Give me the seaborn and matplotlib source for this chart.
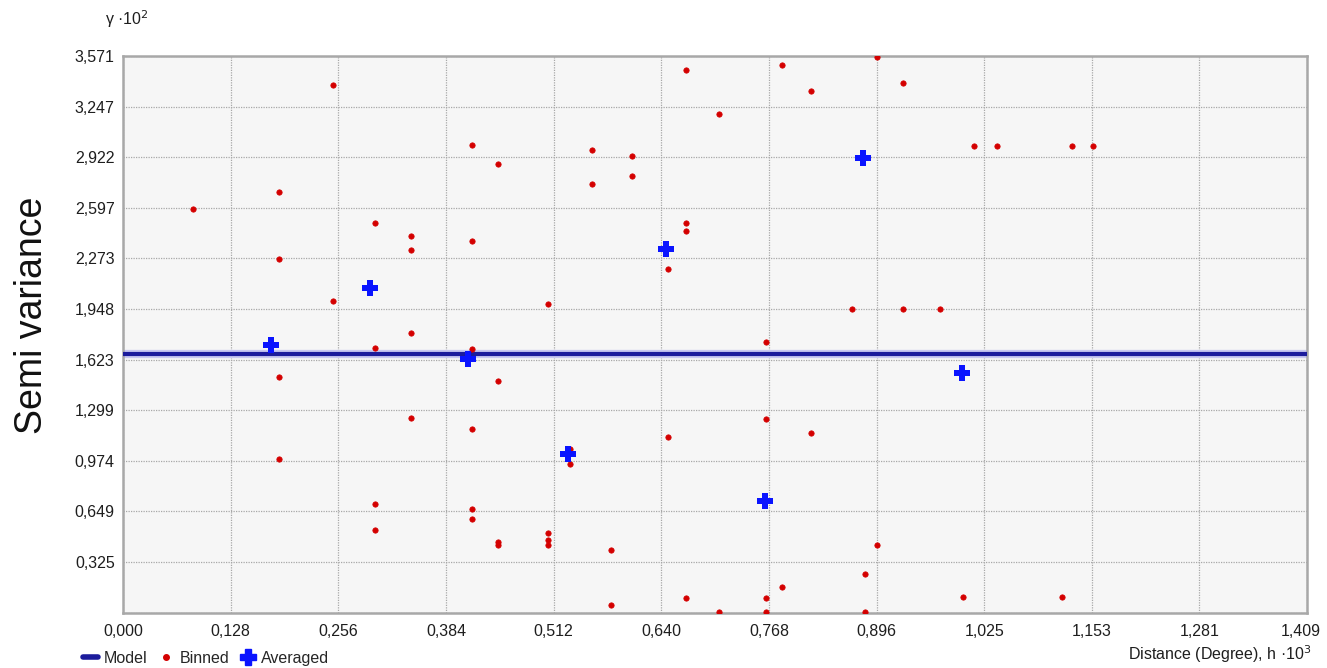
import matplotlib
matplotlib.use("Agg")
import matplotlib.pyplot as plt
from matplotlib.lines import Line2D
import matplotlib.transforms as mtransforms
import seaborn as sns
import pandas as pd

# ---- data (x in units of 10^3, y in units of 10^2) ----
binned_x = [0.0837, 0.186, 0.186, 0.186, 0.186,
            0.2496, 0.2496, 0.2999, 0.2999, 0.2999, 0.2999,
            0.3431, 0.3431, 0.3431, 0.3431,
            0.4153, 0.4153, 0.4153, 0.4153, 0.4153, 0.4153,
            0.4467, 0.4467, 0.4467, 0.4467,
            0.5061, 0.5061, 0.5061, 0.5061,
            0.5321, 0.5321, 0.5581, 0.5581, 0.5811, 0.5811,
            0.6054, 0.6054, 0.6486, 0.649,
            0.6704, 0.6704, 0.6704, 0.6704,
            0.7089, 0.7089,
            0.7652, 0.7652, 0.7652, 0.7652,
            0.7838, 0.7838, 0.8184, 0.8184,
            0.8676, 0.8834, 0.8834, 0.8977, 0.8977,
            0.9283, 0.9283, 0.9727,
            1.0, 1.0131, 1.0405, 1.117, 1.1297, 1.1544]
binned_y = [2.589, 2.698, 2.270, 1.510, 0.987,
            3.387, 1.999, 2.501, 1.698, 0.697, 0.530,
            2.418, 2.324, 1.792, 1.250,
            3.002, 2.386, 1.689, 1.176, 0.663, 0.601,
            2.876, 1.488, 0.455, 0.435,
            1.978, 0.509, 0.468, 0.432,
            1.050, 0.953, 2.970, 2.750, 0.404, 0.049,
            2.927, 2.803, 1.125, 2.206,
            3.481, 2.501, 2.448, 0.092,
            3.199, 0.002,
            1.738, 1.240, 0.092, 0.002,
            3.513, 0.164, 3.346, 1.154,
            1.950, 0.248, 0.002, 3.567, 0.434,
            3.398, 1.950, 1.950,
            0.102, 2.992, 2.992, 0.102, 2.992, 2.992]

averaged_x = [0.1757, 0.294, 0.4106, 0.5292, 0.6458, 0.764, 0.8803, 0.9989]
averaged_y = [1.717, 2.085, 1.625, 1.019, 2.333, 0.716, 2.918, 1.539]

model_value = 1.659

x_max = 1.409
y_max = 3.571
x_tick_labels = ["0,000", "0,128", "0,256", "0,384", "0,512", "0,640",
                 "0,768", "0,896", "1,025", "1,153", "1,281", "1,409"]
y_tick_labels = ["", "0,325", "0,649", "0,974", "1,299", "1,623",
                 "1,948", "2,273", "2,597", "2,922", "3,247", "3,571"]

binned = pd.DataFrame({"x": binned_x, "y": binned_y})
averaged = pd.DataFrame({"x": averaged_x, "y": averaged_y})

sns.set_theme(style="white")
fam = ["Liberation Sans", "DejaVu Sans"]
plt.rcParams["font.family"] = fam

fig = plt.figure(figsize=(13.27, 6.68), dpi=100)
ax = fig.add_axes([0.0927, 0.083, 0.8923, 0.833])
ax.set_facecolor("#f6f6f6")

ax.set_xlim(0, x_max)
ax.set_ylim(0, y_max)
n = len(x_tick_labels) - 1
ax.set_xticks([x_max * k / n for k in range(n + 1)])
ax.set_xticklabels(x_tick_labels)
ax.set_yticks([y_max * k / n for k in range(n + 1)])
ax.set_yticklabels(y_tick_labels)
ax.tick_params(axis="both", length=0, labelsize=11.5, colors="#1e1e1e")
ax.tick_params(axis="x", pad=8)
ax.tick_params(axis="y", pad=6)

# keep the last x label inside the figure
last = ax.get_xticklabels()[-1]
last.set_transform(last.get_transform() +
                   mtransforms.ScaledTranslation(-6 / 100, 0, fig.dpi_scale_trans))

ax.grid(True, color="#a8a8a8", linestyle=(0, (1, 1)), linewidth=0.9)
ax.set_axisbelow(True)
for s in ax.spines.values():
    s.set_color("#a8a8a8")
    s.set_linewidth(1.8)

# model line with soft halo
ax.axhline(model_value, color="#c8c8f0", linewidth=6, zorder=2)
ax.axhline(model_value, color="#1c1c9c", linewidth=3, zorder=3)

sns.scatterplot(data=binned, x="x", y="y", ax=ax, marker="o", s=15,
                color="#d40000", edgecolor="#d40000", linewidth=0.5, zorder=4,
                legend=False)
sns.scatterplot(data=averaged, x="x", y="y", ax=ax, marker="P", s=130,
                color="#0a14ff", edgecolor="#0a14ff", linewidth=0, zorder=5,
                legend=False)
ax.set_xlabel("")
ax.set_ylabel("")

fig.text(0.024, 0.528, "Semi variance", rotation=90, fontsize=27,
         ha="center", va="center", color="#111111")
fig.text(0.079, 0.972, r"γ ·10$^{2}$", fontsize=11.5, ha="left", va="center",
         color="#1e1e1e")
fig.text(0.988, 0.004, r"Distance (Degree), h ·10$^{3}$", fontsize=11.5,
         ha="right", va="bottom", color="#1e1e1e")

handles = [
    Line2D([0], [0], color="#1c1c9c", linewidth=4),
    Line2D([0], [0], marker="o", color="none", markerfacecolor="#d40000",
           markeredgecolor="#d40000", markersize=4),
    Line2D([0], [0], marker="P", color="none", markerfacecolor="#0a14ff",
           markeredgecolor="#0a14ff", markersize=11),
]
fig.legend(handles, ["Model", "Binned", "Averaged"], loc="lower left",
           bbox_to_anchor=(0.052, -0.018), ncol=3, frameon=False, fontsize=11.5,
           handlelength=0.9, handletextpad=0.4, columnspacing=0.7)

fig.savefig("out.png", dpi=100, facecolor="white")
